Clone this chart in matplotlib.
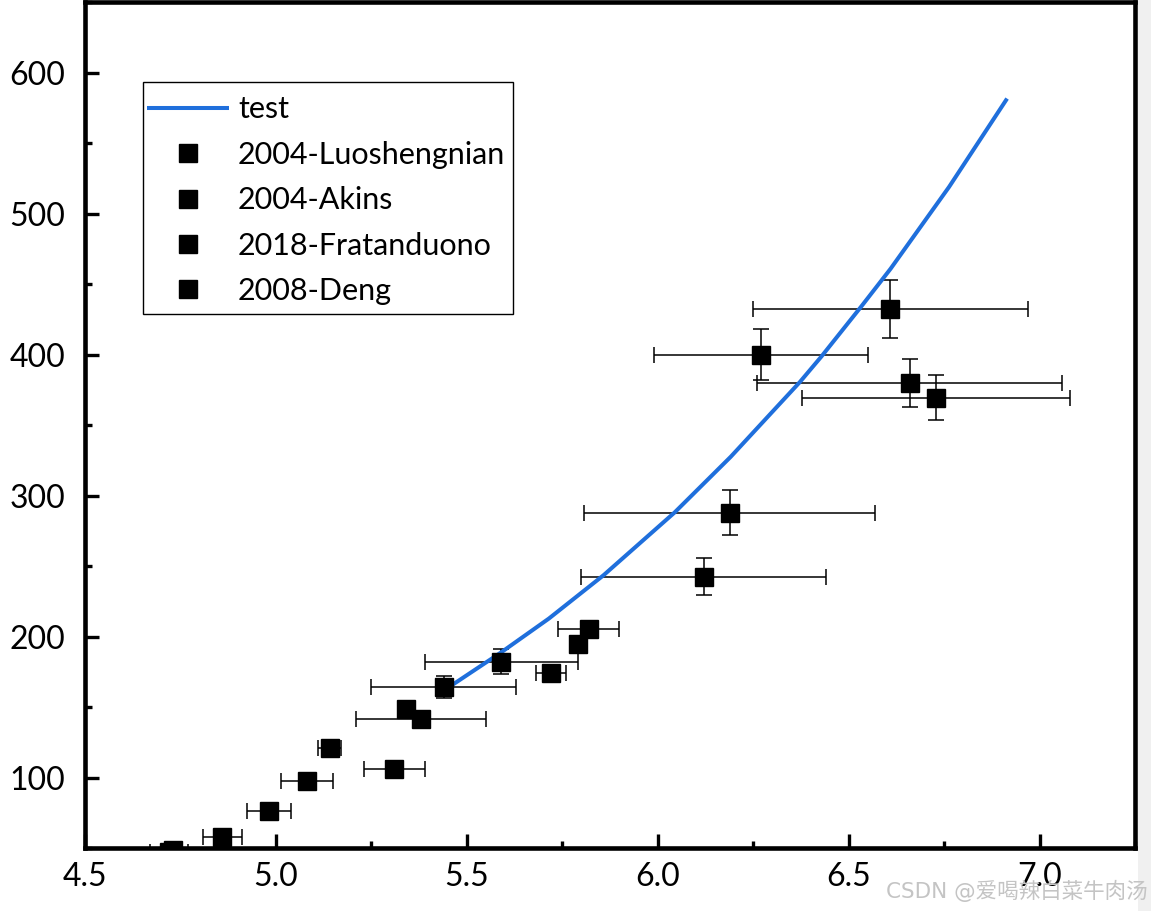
import matplotlib
matplotlib.use("Agg")
import matplotlib.pyplot as plt
from matplotlib.patches import Rectangle
from matplotlib.ticker import MultipleLocator

plt.rcParams['font.family'] = ['Lato', 'DejaVu Sans']

# fitted curve "test"
test_x = [5.44, 5.463, 5.591, 5.715, 5.858, 6.044, 6.191, 6.372, 6.429,
          6.534, 6.610, 6.763, 6.915]
test_y = [161.8, 165.9, 189.0, 212.8, 243.5, 288.0, 327.5, 380.5, 398.8,
          434.5, 461.0, 519.0, 581.7]

# 2004-Luoshengnian
luo_x = [4.86, 4.982, 5.081, 5.141, 5.31, 5.72, 5.819]
luo_y = [57.8, 75.9, 97.2, 121.3, 106.4, 174.5, 205.7]
luo_xerr = [0.05, 0.058, 0.068, 0.03, 0.08, 0.04, 0.08]
luo_yerr = [0, 0, 0, 0, 0, 0, 0]

# 2004-Akins
akins_x = [4.72, 4.73, 5.34, 5.79]
akins_y = [47.2, 48.6, 148.6, 194.8]
akins_xerr = [0.05, 0.0, 0.0, 0.0]
akins_yerr = [0, 0, 0, 0]

# 2018-Fratanduono
frat_x = [5.381, 5.44, 5.59, 6.12, 6.188]
frat_y = [141.5, 164.2, 182.3, 242.6, 288.0]
frat_xerr = [0.17, 0.19, 0.20, 0.321, 0.38]
frat_yerr = [0, 7.7, 9.0, 13.1, 15.7]

# 2008-Deng
deng_x = [6.27, 6.609, 6.66, 6.729]
deng_y = [400.0, 432.4, 380.1, 369.3]
deng_xerr = [0.28, 0.36, 0.40, 0.35]
deng_yerr = [18.0, 20.6, 17.0, 16.0]

series = [
    ("2004-Luoshengnian", luo_x, luo_y, luo_xerr, luo_yerr),
    ("2004-Akins", akins_x, akins_y, akins_xerr, akins_yerr),
    ("2018-Fratanduono", frat_x, frat_y, frat_xerr, frat_yerr),
    ("2008-Deng", deng_x, deng_y, deng_xerr, deng_yerr),
]

fig = plt.figure(figsize=(11.51, 9.11), dpi=100)
fig.patches.append(Rectangle((1138 / 1151, 0), 1, 1, transform=fig.transFigure,
                             facecolor='#f0f0f0', edgecolor='none', zorder=-10))
ax = fig.add_axes([85 / 1151, 63 / 911, 1050 / 1151, 845.7 / 911])

handles = []
line, = ax.plot(test_x, test_y, color='#1F6FDC', lw=2.9, zorder=3, label='test',
                solid_capstyle='butt')
handles.append(line)

for name, x, y, xe, ye in series:
    ax.errorbar(x, y, xerr=xe, yerr=ye, fmt='none', ecolor='black',
                elinewidth=1.1, capsize=6, capthick=1.1, zorder=2)
    h, = ax.plot(x, y, 's', color='black', markersize=13.5, zorder=4,
                 linestyle='none', label=name)
    handles.append(h)

ax.set_xlim(4.5, 7.25)
ax.set_ylim(50, 650)
ax.xaxis.set_minor_locator(MultipleLocator(0.25))
ax.yaxis.set_minor_locator(MultipleLocator(50))
ax.set_xticks([4.5, 5.0, 5.5, 6.0, 6.5, 7.0])
ax.set_xticklabels(['4.5', '5.0', '5.5', '6.0', '6.5', '7.0'])
ax.set_yticks([100, 200, 300, 400, 500, 600])

for s in ax.spines.values():
    s.set_linewidth(3.3)
ax.tick_params(which='major', direction='in', length=10, width=2.4,
               labelsize=23, pad=10)
ax.tick_params(which='minor', direction='in', length=5, width=2.4)
ax.tick_params(axis='y', pad=14)

# legend box drawn as a plain frame, entries placed inside it
ax.add_patch(Rectangle((0.0552, 0.6314), 0.3524, 0.2744, transform=ax.transAxes,
                       facecolor='white', edgecolor='black', lw=1.0, zorder=5))
leg = ax.legend(handles=handles, loc='upper left',
                bbox_to_anchor=(0.0590, 0.8899), borderaxespad=0, borderpad=0,
                fontsize=22, frameon=False, handlelength=2.7,
                handletextpad=0.28, labelspacing=0.57)
leg.set_zorder(6)

fig.text(0.9975, 0.022, 'CSDN @爱喝辣白菜牛肉汤', ha='right', va='center',
         fontsize=15.5, color='#c4c4c4',
         family=['DejaVu Sans', 'Noto Sans CJK SC'], zorder=10)

fig.savefig('out.png', dpi=100)
